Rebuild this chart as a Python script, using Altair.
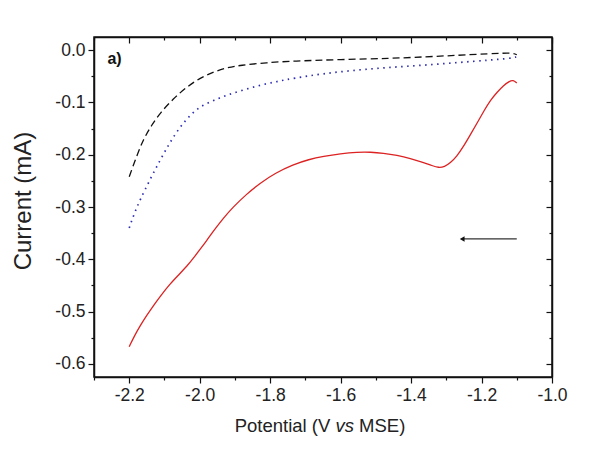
import altair as alt
import pandas as pd

# ---- data ----
red_x = [-2.200, -2.185, -2.169, -2.150, -2.132, -2.108, -2.084, -2.060, -2.036, -2.018,
         -2.000, -1.980, -1.962, -1.935, -1.905, -1.868, -1.828, -1.785, -1.735, -1.690,
         -1.649, -1.600, -1.553, -1.515, -1.479, -1.440, -1.402, -1.365, -1.340, -1.322,
         -1.305, -1.289, -1.270, -1.252, -1.232, -1.212, -1.193, -1.175, -1.155, -1.138,
         -1.122, -1.110, -1.100]
red_y = [-0.567, -0.546, -0.527, -0.507, -0.489, -0.467, -0.447, -0.430, -0.413, -0.398,
         -0.382, -0.364, -0.347, -0.323, -0.300, -0.276, -0.254, -0.235, -0.219, -0.209,
         -0.203, -0.198, -0.195, -0.195, -0.197, -0.201, -0.207, -0.215, -0.221, -0.225,
         -0.223, -0.216, -0.203, -0.185, -0.162, -0.139, -0.116, -0.096, -0.080, -0.068,
         -0.060, -0.057, -0.063]

black_x = [-2.200, -2.180, -2.161, -2.137, -2.112, -2.075, -2.036, -2.000, -1.962, -1.925,
           -1.885, -1.810, -1.735, -1.600, -1.459, -1.360, -1.269, -1.180, -1.110, -1.100]
black_y = [-0.242, -0.205, -0.172, -0.144, -0.120, -0.093, -0.070, -0.054, -0.042, -0.034,
           -0.029, -0.024, -0.021, -0.018, -0.016, -0.013, -0.010, -0.007, -0.005, -0.009]

blue_x = [-2.200, -2.185, -2.169, -2.140, -2.112, -2.085, -2.056, -2.028, -2.000, -1.960,
          -1.923, -1.875, -1.828, -1.780, -1.735, -1.650, -1.553, -1.460, -1.365, -1.270,
          -1.175, -1.120, -1.100]
blue_y = [-0.340, -0.311, -0.286, -0.246, -0.210, -0.177, -0.147, -0.125, -0.108, -0.096,
          -0.086, -0.076, -0.067, -0.060, -0.054, -0.045, -0.038, -0.033, -0.029, -0.024,
          -0.019, -0.016, -0.013]

arrow_x = [-1.100]
arrow_x2 = [-1.255]
arrow_y = [-0.361]

label_x = [-2.262]
label_y = [-0.017]
label_text = ["a)"]

x_ticks = [-2.3, -2.2, -2.1, -2.0, -1.9, -1.8, -1.7, -1.6, -1.5, -1.4, -1.3, -1.2, -1.1, -1.0]
y_ticks = [-0.6, -0.55, -0.5, -0.45, -0.4, -0.35, -0.3, -0.25, -0.2, -0.15, -0.1, -0.05, 0.0]

x_title_parts = ["Potential (V", "vs", "MSE)"]
y_title = "Current (mA)"

FONT = "Liberation Sans"
W, H = 458, 340

def frame(xs, ys):
    return pd.DataFrame({"x": xs, "y": ys, "i": list(range(len(xs)))})

xscale = alt.Scale(domain=[-2.3, -1.0], nice=False, zero=False)
yscale = alt.Scale(domain=[-0.625, 0.025], nice=False, zero=False)

major_x = "abs(round(datum.value*10)) % 2 == 0"
major_y = "abs(round(datum.value*20)) % 2 == 0"
lab = "(datum.value < 0 ? '-' : '') + format(abs(datum.value), '.1f')"

common_axis = dict(grid=False, domainColor="#111", domainWidth=1.5, tickColor="#111",
                   tickWidth=1.2, labelFont=FONT, labelFontSize=17.5, labelColor="#222",
                   labelOverlap=False, labelFlush=False, labelBound=False, title=None)

x_main = alt.Axis(orient="bottom", values=x_ticks,
                  labelExpr=f"{major_x} ? {lab} : ''",
                  tickSize={"condition": {"test": major_x, "value": 6}, "value": 3},
                  labelPadding=3, **common_axis)
y_main = alt.Axis(orient="left", values=y_ticks,
                  labelExpr=f"{major_y} ? {lab} : ''",
                  tickSize={"condition": {"test": major_y, "value": 6}, "value": 3},
                  labelPadding=3, **common_axis)
x_mirror = alt.Axis(orient="bottom", offset=-H, values=x_ticks, labels=False,
                    tickSize={"condition": {"test": major_x, "value": 6}, "value": 3},
                    **{k: v for k, v in common_axis.items() if not k.startswith("label")})
y_mirror = alt.Axis(orient="left", offset=-W, values=y_ticks, labels=False,
                    tickSize={"condition": {"test": major_y, "value": 6}, "value": 3},
                    **{k: v for k, v in common_axis.items() if not k.startswith("label")})

red = alt.Chart(frame(red_x, red_y)).mark_line(
    color="#dc2222", strokeWidth=1.3, interpolate="basis"
).encode(
    x=alt.X("x:Q", scale=xscale, axis=x_main),
    y=alt.Y("y:Q", scale=yscale, axis=y_main),
    order="i:O",
)

black = alt.Chart(frame(black_x, black_y)).mark_line(
    color="#111111", strokeWidth=1.3, strokeDash=[7, 4], interpolate="basis"
).encode(
    x=alt.X("x:Q", scale=xscale, axis=None),
    y=alt.Y("y:Q", scale=yscale, axis=None),
    order="i:O",
)

blue = alt.Chart(frame(blue_x, blue_y)).mark_line(
    color="#2b2bb5", strokeWidth=1.7, strokeDash=[1.5, 4.5], interpolate="basis"
).encode(
    x=alt.X("x:Q", scale=xscale, axis=x_mirror),
    y=alt.Y("y:Q", scale=yscale, axis=y_mirror),
    order="i:O",
)

arrow_df = pd.DataFrame({"x": arrow_x, "x2": arrow_x2, "y": arrow_y})
arrow_line = alt.Chart(arrow_df).mark_rule(color="#333", strokeWidth=1.1).encode(
    x=alt.X("x:Q", scale=xscale, axis=None), x2="x2:Q",
    y=alt.Y("y:Q", scale=yscale, axis=None),
)
arrow_head = alt.Chart(arrow_df).mark_point(
    shape="triangle-left", filled=True, color="#111", size=30, opacity=1
).encode(
    x=alt.X("x2:Q", scale=xscale, axis=None),
    y=alt.Y("y:Q", scale=yscale, axis=None),
)

label_df = pd.DataFrame({"x": label_x, "y": label_y, "t": label_text})
label = alt.Chart(label_df).mark_text(
    font=FONT, fontSize=16, fontWeight="bold", align="left", baseline="middle", color="#111"
).encode(
    x=alt.X("x:Q", scale=xscale, axis=None),
    y=alt.Y("y:Q", scale=yscale, axis=None),
    text="t:N",
)

TS = 18.5
one = pd.DataFrame({"k": [0]})
start = 226 - (9.225 * TS) / 2
tx1 = alt.Chart(one).mark_text(text=x_title_parts[0], font=FONT, fontSize=TS, align="right",
                               baseline="alphabetic", color="#222").encode(
    x=alt.value(start + 5.169 * TS), y=alt.value(395))
tx2 = alt.Chart(one).mark_text(text=x_title_parts[1], font=FONT, fontSize=TS, fontStyle="italic",
                               align="left", baseline="alphabetic", color="#222").encode(
    x=alt.value(start + 5.447 * TS), y=alt.value(395))
tx3 = alt.Chart(one).mark_text(text=x_title_parts[2], font=FONT, fontSize=TS, align="left",
                               baseline="alphabetic", color="#222").encode(
    x=alt.value(start + 6.725 * TS), y=alt.value(395))
ty = alt.Chart(one).mark_text(text=y_title, font=FONT, fontSize=24, angle=270, align="center",
                              baseline="middle", color="#222").encode(
    x=alt.value(-70), y=alt.value(164))

chart = alt.layer(
    red, black, blue, arrow_line, arrow_head, label, tx1, tx2, tx3, ty
).resolve_axis(x="independent", y="independent").properties(
    width=W, height=H,
    autosize=alt.AutoSizeParams(type="none"),
    padding={"left": 86, "top": 29, "right": 35, "bottom": 81},
    background="white",
).configure_view(stroke="#111", strokeWidth=1.5)

chart.save("out.html", embed_options={"renderer": "svg", "actions": False})
